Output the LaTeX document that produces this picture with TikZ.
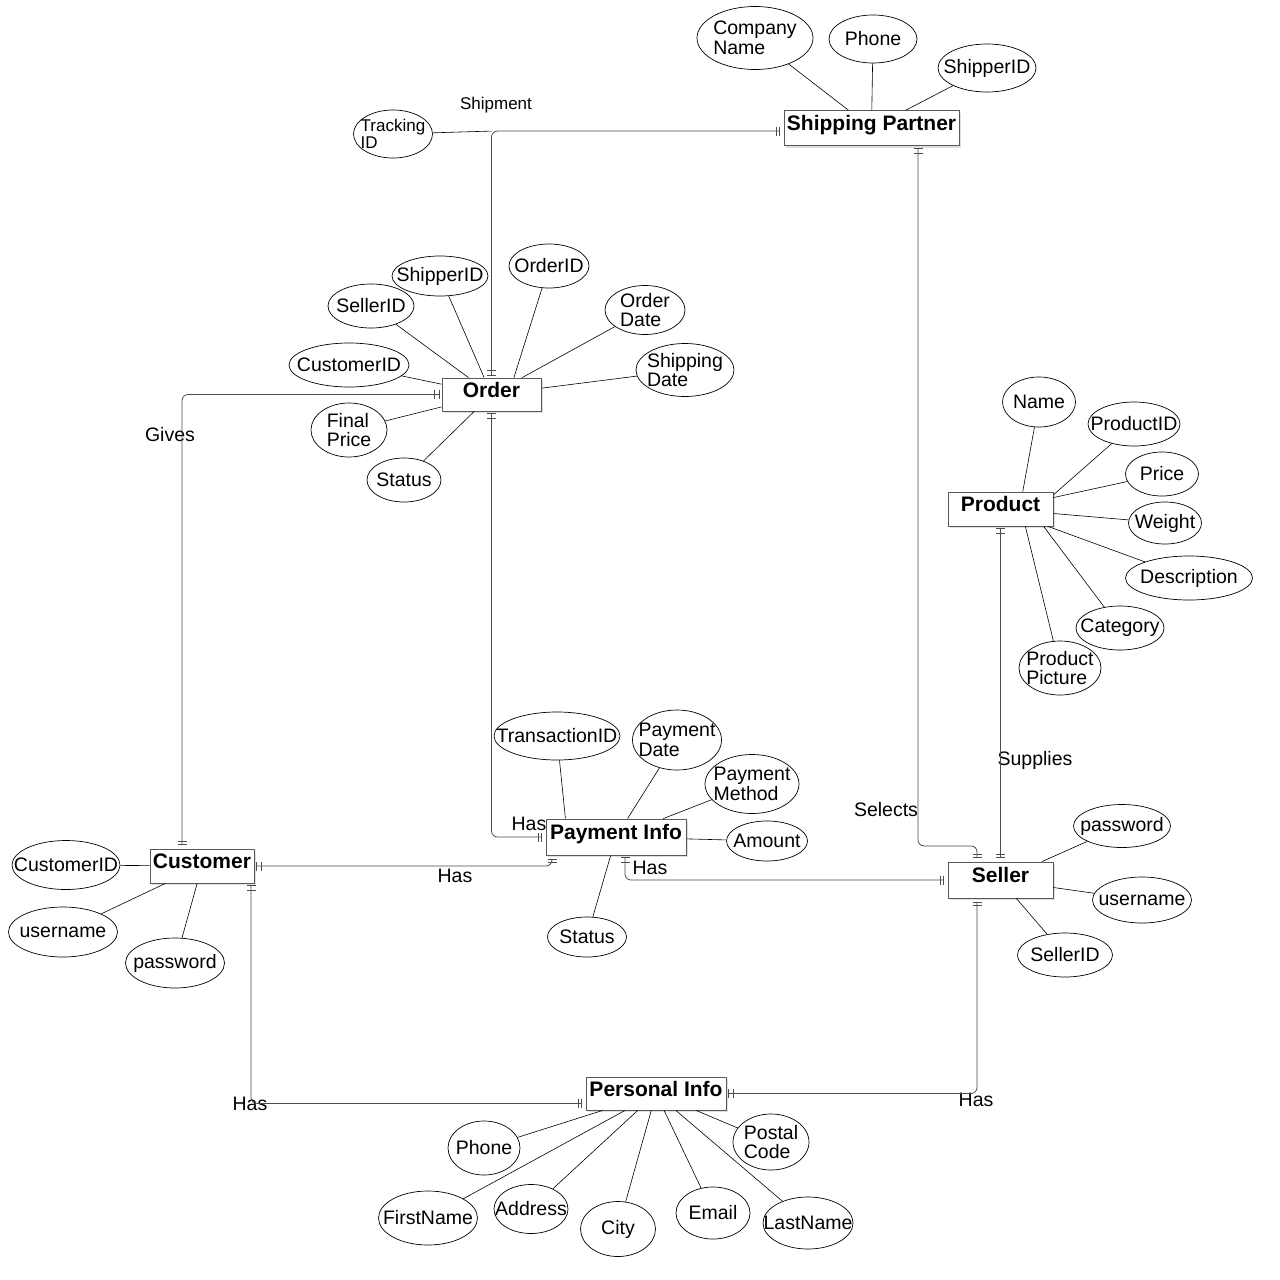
\documentclass[tikz,border=0pt]{standalone}
\usepackage{fontspec}
\setmainfont{Liberation Sans}
\usetikzlibrary{shapes.geometric,arrows.meta,shadows}
\newcommand{\attrfont}{\fontsize{19.5}{19.5}\selectfont}
\newcommand{\entfont}{\fontsize{21}{22}\selectfont\bfseries}
\newcommand{\lblfont}{\fontsize{19.5}{20}\selectfont}
\newcommand{\smallfont}{\fontsize{17}{17}\selectfont}

\begin{document}
\begin{tikzpicture}[x=1pt,y=1pt,yscale=-1,
    ent/.style={draw=black!65, fill=white, line width=0.8pt, font=\entfont, inner sep=0pt,
      text height=15pt, text depth=10pt,
      drop shadow={shadow xshift=2pt,shadow yshift=-2pt,opacity=0.25}},
    attr/.style={ellipse, draw, line width=0.7pt, inner sep=-40pt, align=left, font=\attrfont},
    att/.style={line width=0.6pt},
    rel/.style={draw=black!70, line width=0.8pt, rounded corners=6pt,
      arrows={Bar[width=9pt,sep=2pt]Bar[width=9pt,sep=4pt]-Bar[width=9pt,sep=2pt]Bar[width=9pt,sep=4pt]}},
    lbl/.style={font=\lblfont, inner sep=0pt}]
    \path[fill=white] (0,0) rectangle (1280,1280);
    \useasboundingbox (0,0) rectangle (1280,1280);

    % entities
    \node (shp) [ent, minimum width=175, minimum height=35] at (871.5,128) {Shipping Partner};
    \node (ord) [ent, minimum width=99, minimum height=33] at (491.5,394.5) {Order};
    \node (prd) [ent, minimum width=105, minimum height=34] at (1000.5,509) {Product};
    \node (pay) [ent, minimum width=140, minimum height=36] at (616,837) {Payment Info};
    \node (cus) [ent, minimum width=104, minimum height=34] at (202,866) {Customer};
    \node (sel) [ent, minimum width=105, minimum height=36] at (1000.5,880) {Seller};
    \node (per) [ent, minimum width=140, minimum height=33] at (656,1093.5) {Personal Info};

    % shipping partner
    \node (cname) [attr, minimum width=116, minimum height=63] at (755,38) {Company\\Name};
    \node (sphone) [attr, minimum width=88, minimum height=48] at (873,39) {Phone};
    \node (sshid) [attr, minimum width=98, minimum height=48] at (987,68) {ShipperID};
    \node (trk) [attr, font=\smallfont, minimum width=79, minimum height=48] at (393,134) {Tracking\\ID};

    % order
    \node (oshid) [attr, minimum width=96, minimum height=40] at (440,276) {ShipperID};
    \node (oid) [attr, minimum width=80, minimum height=44] at (549,266) {OrderID};
    \node (osid) [attr, minimum width=86, minimum height=44] at (371,306) {SellerID};
    \node (odate) [attr, minimum width=80, minimum height=49] at (645,310) {Order\\Date};
    \node (ocid) [attr, minimum width=120, minimum height=44] at (349,365) {CustomerID};
    \node (oship) [attr, minimum width=98, minimum height=53] at (685,370) {Shipping\\Date};
    \node (ofp) [attr, minimum width=76, minimum height=54] at (349,430) {Final\\Price};
    \node (ostat) [attr, minimum width=74, minimum height=44] at (404,480) {Status};

    % product
    \node (pname) [attr, minimum width=73, minimum height=50] at (1039,402) {Name};
    \node (pid) [attr, minimum width=92, minimum height=44] at (1134,424) {ProductID};
    \node (pprice) [attr, minimum width=73, minimum height=44] at (1162,474) {Price};
    \node (pwt) [attr, minimum width=73, minimum height=42] at (1165,523) {Weight};
    \node (pdesc) [attr, minimum width=127, minimum height=44] at (1189,578) {Description};
    \node (pcat) [attr, minimum width=88, minimum height=44] at (1120,628) {Category};
    \node (ppic) [attr, minimum width=82, minimum height=54] at (1060,668) {Product\\Picture};

    % payment info
    \node (ptid) [attr, minimum width=126, minimum height=48] at (557,736) {TransactionID};
    \node (pdate) [attr, minimum width=89, minimum height=60] at (677,740) {Payment\\Date};
    \node (pmeth) [attr, minimum width=94, minimum height=59] at (752,784) {Payment\\Method};
    \node (pamt) [attr, minimum width=81, minimum height=40] at (767,841) {Amount};
    \node (pstat) [attr, minimum width=79, minimum height=40] at (587,937) {Status};

    % customer
    \node (ccid) [attr, minimum width=108, minimum height=49] at (66,865) {CustomerID};
    \node (cuser) [attr, minimum width=109, minimum height=50] at (63,932) {username};
    \node (cpass) [attr, minimum width=99, minimum height=50] at (175,963) {password};

    % seller
    \node (spass) [attr, minimum width=97, minimum height=43] at (1122,826) {password};
    \node (suser) [attr, minimum width=99, minimum height=46] at (1142,900) {username};
    \node (ssid) [attr, minimum width=95, minimum height=44] at (1065,955) {SellerID};

    % personal info
    \node (iphone) [attr, minimum width=72, minimum height=54] at (484,1148) {Phone};
    \node (ipost) [attr, minimum width=76, minimum height=56] at (771,1142) {Postal\\Code};
    \node (ifirst) [attr, minimum width=99, minimum height=54] at (428,1218) {FirstName};
    \node (iaddr) [attr, minimum width=74, minimum height=49] at (531,1209) {Address};
    \node (icity) [attr, minimum width=75, minimum height=55] at (618,1229) {City};
    \node (iemail) [attr, minimum width=74, minimum height=52] at (713,1213) {Email};
    \node (ilast) [attr, minimum width=90, minimum height=52] at (808,1223) {LastName};

    % relationship labels
    \node (lship) [lbl, font=\smallfont] at (496,105) {Shipment};
    \node (lgive) [lbl] at (170,435) {Gives};
    \node (lhas1) [lbl] at (529,824) {Has};
    \node (lhas2) [lbl] at (650,868) {Has};
    \node (lhas3) [lbl] at (455,876) {Has};
    \node (lsel) [lbl] at (886,810) {Selects};
    \node (lsup) [lbl] at (1035,760) {Supplies};
    \node (lhas4) [lbl] at (250,1104) {Has};
    \node (lhas5) [lbl] at (976,1100) {Has};

    % attribute lines
    \foreach \a in {cname,sphone,sshid} \draw[att] (\a) -- (shp);
    \foreach \a in {oshid,osid,odate,ocid,oship,ofp,ostat} \draw[att] (\a) -- (ord);
    \draw[att] (oid) -- (ord.37);
    \foreach \a in {pprice,pwt,pdesc} \draw[att] (\a) -- (prd);
    \draw[att] (pname) -- (prd.38);
    \draw[att] (pid) -- (prd.15);
    \draw[att] (pcat) -- (prd.-22);
    \draw[att] (ppic) -- (prd.-35);
    \foreach \a in {pdate,pmeth,pamt,pstat} \draw[att] (\a) -- (pay);
    \draw[att] (ptid) -- (pay.160);
    \foreach \a in {ccid,cuser,cpass} \draw[att] (\a) -- (cus);
    \foreach \a in {spass,suser,ssid} \draw[att] (\a) -- (sel);
    \foreach \a in {iphone,ipost,ifirst,iaddr,icity,iemail,ilast} \draw[att] (\a) -- (per);

    % relationships
    \coordinate (shpc) at (ord.north |- shp.182);
    \draw[rel] (ord.north) |- (shp.182);
    \draw[att] (trk) -- (shpc);
    \draw[rel] (ord.south) |- (pay.west);
    \draw[rel] ([xshift=46.5]shp.south) -- ++(0,700) -| ([xshift=-23.5]sel.north);
    \draw[rel] (prd.south) -- (sel.north);
    \draw[rel] ([xshift=9]pay.south) |- (sel.west);
    \draw[rel] (cus.east) -| ([xshift=-64]pay.south);
    \draw[rel] (ord.west) -| ([xshift=-20]cus.north);
    \draw[rel] ([xshift=49]cus.south) |- (per.188);
    \draw[rel] (per.east) -| ([xshift=-23.5]sel.south);
\end{tikzpicture}
\end{document}
